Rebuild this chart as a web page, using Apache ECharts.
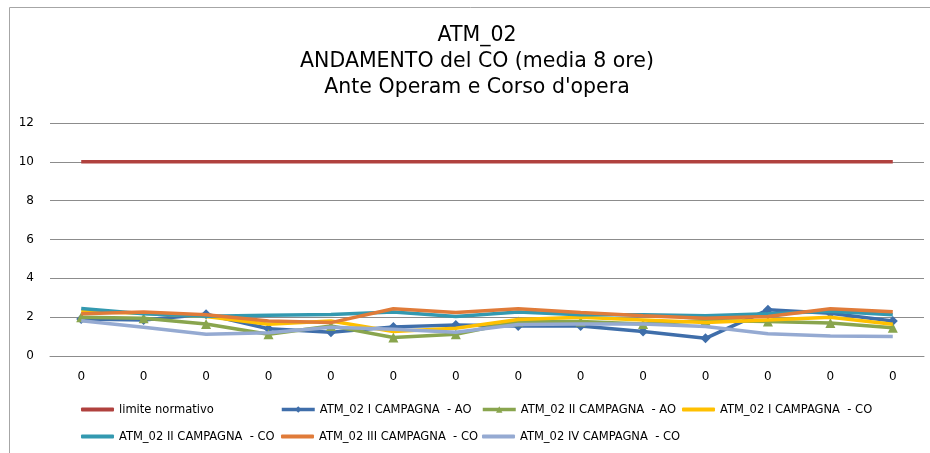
<!DOCTYPE html>
<html>
<head>
<meta charset="utf-8">
<script src="https://cdn.jsdelivr.net/npm/echarts@6/dist/echarts.min.js"></script>
<style>
  html, body { margin: 0; padding: 0; background: #fff; }
  #chart-container { width: 930px; height: 453px; }
</style>
</head>
<body>
<div id="chart-container"></div>
<script>
var categories = ['0', '0', '0', '0', '0', '0', '0', '0', '0', '0', '0', '0', '0', '0'];
var yTicks = [0, 2, 4, 6, 8, 10, 12];

var limite = [10, 10, 10, 10, 10, 10, 10, 10, 10, 10, 10, 10, 10, 10];
var aoI = [1.9, 1.86, 2.15, 1.4, 1.22, 1.5, 1.6, 1.55, 1.55, 1.26, 0.91, 2.38, 2.2, 1.8];
var aoII = [2.0, 1.95, 1.65, 1.12, 1.55, 0.95, 1.12, 1.78, 1.78, 1.65, 1.83, 1.78, 1.7, 1.45];
var coI = [2.3, 2.2, 2.03, 1.64, 1.8, 1.26, 1.43, 1.88, 2.0, 1.86, 1.72, 1.86, 2.0, 1.64];
var coII = [2.45, 2.17, 2.05, 2.1, 2.14, 2.26, 2.03, 2.26, 2.12, 2.12, 2.07, 2.17, 2.3, 2.12];
var coIII = [2.17, 2.26, 2.13, 1.8, 1.72, 2.43, 2.24, 2.43, 2.24, 2.07, 1.95, 2.03, 2.43, 2.28];
var coIV = [1.82, 1.48, 1.12, 1.2, 1.48, 1.38, 1.22, 1.62, 1.65, 1.65, 1.52, 1.15, 1.03, 1.0];

var names = [
  'limite normativo',
  'ATM_02 I CAMPAGNA  - AO',
  'ATM_02 II CAMPAGNA  - AO',
  'ATM_02 I CAMPAGNA  - CO',
  'ATM_02 II CAMPAGNA  - CO',
  'ATM_02 III CAMPAGNA  - CO',
  'ATM_02 IV CAMPAGNA  - CO'
];
var colors = ['#b0413e', '#3f6eaa', '#89a54e', '#ffc000', '#3399b0', '#e07b39', '#95aad2'];

var dom = document.getElementById('chart-container');
var myChart = echarts.init(dom, null, { renderer: 'canvas' });

var legendFont = { fontFamily: 'DejaVu Sans Condensed', fontSize: 12.8, color: '#000' };
function legendAt(name, left, top, marker) {
  return {
    data: [marker ? name : { name: name, icon: 'roundRect' }],
    left: left,
    top: top,
    itemWidth: 33,
    itemHeight: marker ? 8 : 4,
    padding: 0,
    lineStyle: { width: 3.5 },
    textStyle: legendFont,
    selectedMode: false
  };
}

function lineSeries(i, data, symbol, size) {
  return {
    name: names[i],
    type: 'line',
    data: data,
    symbol: symbol || 'none',
    symbolSize: size || 0,
    showSymbol: !!symbol,
    itemStyle: { color: colors[i] },
    lineStyle: { color: colors[i], width: 3.5 },
    emphasis: { disabled: true },
    z: 2 + i
  };
}

var option = {
  animation: false,
  title: {
    text: 'ATM_02\nANDAMENTO del CO (media 8 ore)\nAnte Operam e Corso d\'opera',
    left: 477,
    top: 23,
    padding: 0,
    textAlign: 'center',
    textStyle: {
      fontFamily: 'DejaVu Sans',
      fontSize: 20.5,
      fontWeight: 'normal',
      lineHeight: 26,
      color: '#000'
    }
  },
  graphic: [{
    type: 'rect',
    shape: { x: 9.5, y: 7.5, width: 1000, height: 1000 },
    style: { fill: 'none', stroke: '#a6a6a6', lineWidth: 1 },
    silent: true
  }],
  legend: [
    legendAt(names[0], 81, 403),
    legendAt(names[1], 280, 403, true),
    legendAt(names[2], 481, 403, true),
    legendAt(names[3], 682, 403),
    legendAt(names[4], 81, 430),
    legendAt(names[5], 281, 430),
    legendAt(names[6], 482, 430)
  ],
  grid: { left: 50, right: 6, top: 123, bottom: 97 },
  xAxis: {
    type: 'category',
    data: categories,
    boundaryGap: true,
    axisLine: { lineStyle: { color: '#8c8c8c', width: 1 } },
    axisTick: { show: false },
    axisLabel: { margin: 15, fontFamily: 'DejaVu Sans', fontSize: 12, color: '#000' }
  },
  yAxis: {
    type: 'value',
    min: yTicks[0],
    max: yTicks[yTicks.length - 1],
    interval: 2,
    axisLine: { show: false },
    axisTick: { show: false },
    splitLine: { lineStyle: { color: '#8c8c8c', width: 1 } },
    axisLabel: { margin: 16, fontFamily: 'DejaVu Sans', fontSize: 12, color: '#000' }
  },
  series: [
    lineSeries(0, limite),
    lineSeries(1, aoI, 'diamond', 10),
    lineSeries(2, aoII, 'triangle', 10),
    lineSeries(3, coI),
    lineSeries(4, coII),
    lineSeries(5, coIII),
    lineSeries(6, coIV)
  ]
};

myChart.setOption(option);
window.addEventListener('resize', myChart.resize);
</script>
</body>
</html>
